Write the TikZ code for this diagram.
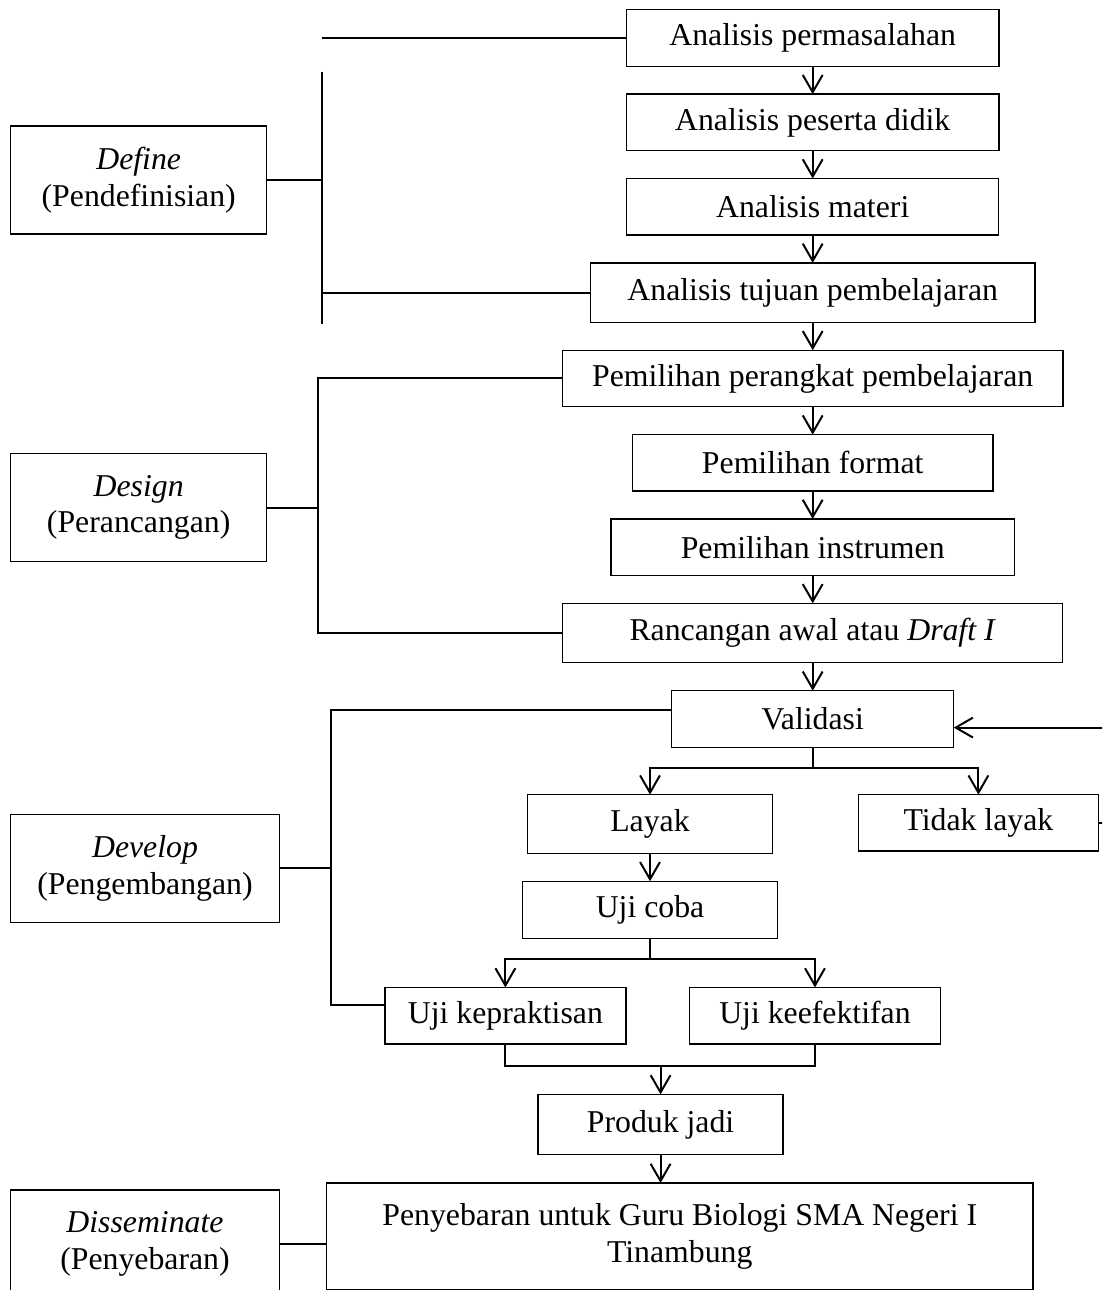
\documentclass[tikz,border=0pt]{standalone}
\usepackage{fontspec}
\setmainfont{Liberation Serif}
\usetikzlibrary{arrows.meta, positioning}

\begin{document}
\begin{tikzpicture}[
  node distance=0.37cm and 0.6cm,
  box/.style={rectangle, draw, line width=0.5pt, minimum height=0.75cm, inner sep=2pt, outer sep=0pt, align=center, font=\fontsize{12}{13.8}\selectfont},
  phase/.style={box, anchor=west, minimum height=1.434cm},
  arrow/.style={->, >={Straight Barb[length=6.5pt, width=7.5pt]}, line width=0.75pt},
  link/.style={line width=0.75pt}
]
\clip (0,0) rectangle (14.632,-17.127);

% Define column
\node[box, minimum width=4.943cm] (masalah) at (10.79,-0.505) {Analisis permasalahan};
\node[box, minimum width=4.943cm, below=of masalah] (peserta) {Analisis peserta didik};
\node[box, minimum width=4.939cm, below=of peserta] (materi) {Analisis materi};
\node[box, minimum width=5.899cm, minimum height=0.79cm, below=of materi] (tujuan) {Analisis tujuan pembelajaran};

% Design column
\node[box, minimum width=6.643cm, below=of tujuan] (perangkat) {Pemilihan perangkat pembelajaran};
\node[box, minimum width=4.788cm, below=of perangkat] (format) {Pemilihan format};
\node[box, minimum width=5.355cm, below=of format] (instrumen) {Pemilihan instrumen};
\node[box, minimum width=6.639cm, minimum height=0.79cm, below=of instrumen] (draft) {Rancangan awal atau \textit{Draft I}};

% Develop column
\node[box, minimum width=3.744cm, below=of draft] (validasi) {Validasi};
\node[box, minimum width=3.248cm, minimum height=0.78cm, below=0.63cm of validasi, xshift=-2.16cm] (layak) {Layak};
\node[box, minimum width=3.183cm, below=0.63cm of validasi, xshift=2.2cm] (tidak) {Tidak layak};
\node[box, minimum width=3.379cm, minimum height=0.76cm, below=of layak] (ujicoba) {Uji coba};
\node[box, minimum width=3.2cm, below=0.65cm of ujicoba, xshift=-1.92cm] (ujikep) {Uji kepraktisan};
\node[box, minimum width=3.333cm, below=0.65cm of ujicoba, xshift=2.19cm] (ujikeef) {Uji keefektifan};
\node[box, minimum width=3.253cm, minimum height=0.8cm, below=2.07cm of ujicoba, xshift=0.14cm] (produk) {Produk jadi};

% Disseminate
\node[box, minimum width=9.38cm, minimum height=1.421cm, below=0.376cm of produk, xshift=0.255cm] (penyebaran) {Penyebaran untuk Guru Biologi SMA Negeri I\\Tinambung};

% Phase boxes (left)
\node[phase, minimum width=3.399cm] (define) at (0.142,-2.39) {\textit{Define}\\(Pendefinisian)};
\node[phase, minimum width=3.399cm] (design) at (0.142,-6.738) {\textit{Design}\\(Perancangan)};
\node[phase, minimum width=3.566cm] (develop) at (0.142,-11.528) {\textit{Develop}\\(Pengembangan)};
\node[phase, minimum width=3.566cm] (disseminate) at (0.142,-16.517) {\textit{Disseminate}\\(Penyebaran)};

% Bracket positions
\coordinate (deftop) at (4.279,-0.952);
\coordinate (defbot) at (4.279,-4.302);
\coordinate (dsgbar) at (4.226,0);
\coordinate (devbar) at (4.395,0);
\coordinate (valin) at ([yshift=0.114cm]validasi.west);
\coordinate (kepin) at ([yshift=0.142cm]ujikep.west);
\coordinate (valback) at ([yshift=-0.115cm]validasi.east);

% Arrows - main column
\draw[arrow] (masalah) -- (peserta);
\draw[arrow] (peserta) -- (materi);
\draw[arrow] (materi) -- (tujuan);
\draw[arrow] (tujuan) -- (perangkat);
\draw[arrow] (perangkat) -- (format);
\draw[arrow] (format) -- (instrumen);
\draw[arrow] (instrumen) -- (draft);
\draw[arrow] (draft) -- (validasi);

% Arrows - develop branches
\draw[arrow] (validasi.south) -- ++(0,-0.27) -| (layak.north);
\draw[arrow] (validasi.south) -- ++(0,-0.27) -| (tidak.north);
\draw[arrow] (tidak.east) -- ++(0.4,0) |- (valback);
\draw[arrow] (layak) -- (ujicoba);
\draw[arrow] (ujicoba.south) -- ++(0,-0.275) -| (ujikep.north);
\draw[arrow] (ujicoba.south) -- ++(0,-0.275) -| (ujikeef.north);
\draw[link] (ujikep.south) -- ++(0,-0.296) coordinate (merge) -| (ujikeef.south);
\draw[arrow] (merge -| produk.north) -- (produk.north);
\draw[arrow] (produk.south) -- (produk.south |- penyebaran.north);

% Phase brackets
\draw[link] (masalah.west) -- (masalah.west -| deftop);
\draw[link] (deftop) -- (defbot);
\draw[link] (define.east) -- (define.east -| deftop);
\draw[link] (tujuan.west) -- (tujuan.west -| deftop);

\draw[link] (perangkat.west) -- (perangkat.west -| dsgbar) -- (draft.west -| dsgbar) -- (draft.west);
\draw[link] (design.east) -- (design.east -| dsgbar);

\draw[link] (valin) -- (valin -| devbar) -- (kepin -| devbar) -- (kepin);
\draw[link] (develop.east) -- (develop.east -| devbar);

\draw[link] (disseminate.east) -- (disseminate.east -| penyebaran.west);

\end{tikzpicture}
\end{document}
